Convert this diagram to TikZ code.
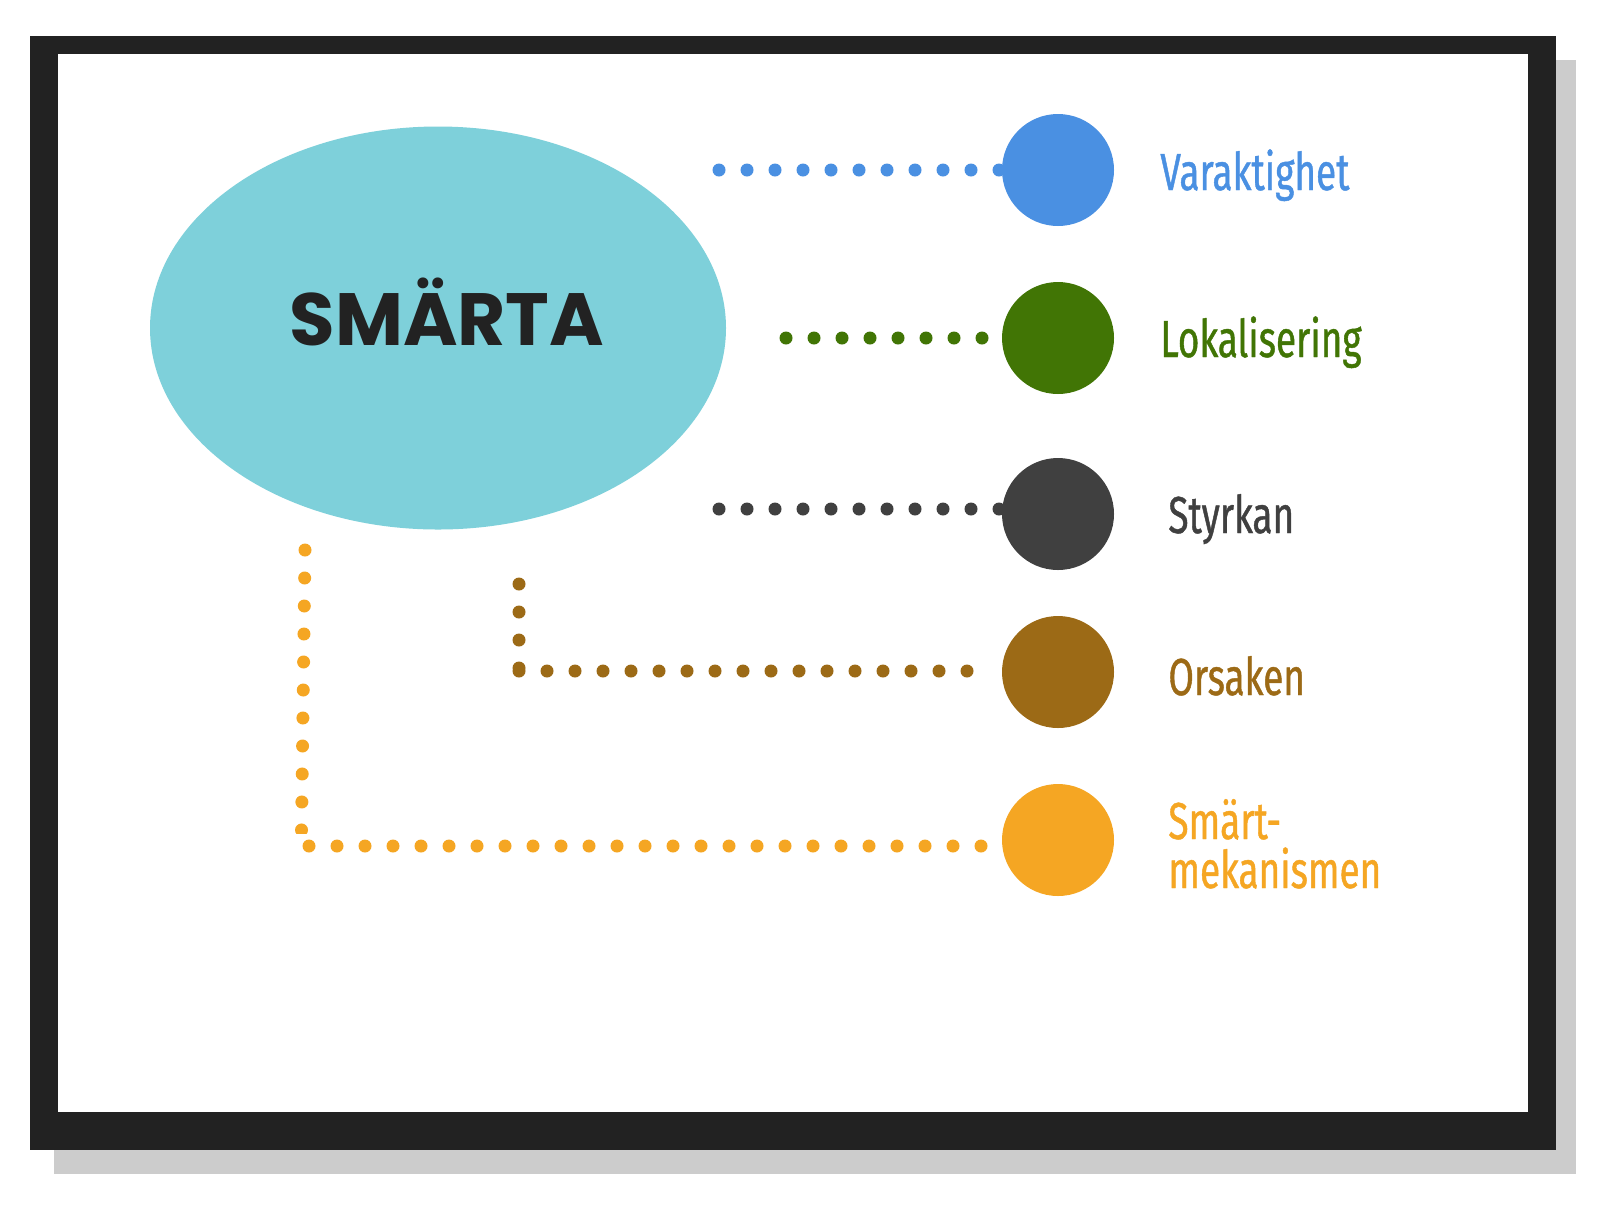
\documentclass[tikz,border=0pt]{standalone}
\usepackage{fontspec}
\usetikzlibrary{shapes.geometric}
\newfontfamily\labfont{Fira Sans}[FakeStretch=0.71,FakeBold=0.8]
\newfontfamily\titlefont{Poppins}
\definecolor{framedark}{HTML}{222222}
\definecolor{shadowgray}{HTML}{CCCCCC}
\definecolor{ellcol}{HTML}{7ED0DA}
\definecolor{cblue}{HTML}{4A90E2}
\definecolor{cgreen}{HTML}{417505}
\definecolor{cdark}{HTML}{404040}
\definecolor{cbrown}{HTML}{9C6A16}
\definecolor{corange}{HTML}{F5A623}
\pgfdeclarelayer{framelayer}
\pgfdeclarelayer{linelayer}
\pgfsetlayers{framelayer,linelayer,main}
\begin{document}
\begin{tikzpicture}[x=0.5pt,y=-0.5pt,
  dots/.style={line width=6.5pt, line cap=round, dash pattern=on 0pt off 14pt},
  bigdot/.style={circle, minimum size=56pt, inner sep=0pt, draw=none},
  lab/.style={anchor=base west, inner sep=0pt, align=left, font=\labfont\fontsize{26}{24.5}\selectfont}]
\useasboundingbox (0,0) rectangle (1600,1222);
\begin{pgfonlayer}{framelayer}
\fill[white] (0,0) rectangle (1600,1222);
\fill[shadowgray] (54,60) rectangle (1576,1174);
\fill[framedark] (30,36) rectangle (1556,1150);
\fill[white] (58,54) rectangle (1528,1112);
\end{pgfonlayer}
% central ellipse
\node[ellipse, fill=ellcol, minimum width=288pt, minimum height=201.5pt, inner sep=0pt] (smarta) at (438,328) {};
\node[anchor=base, inner sep=0pt, text=framedark, font=\titlefont\bfseries\fontsize{37}{40}\selectfont] (smartatxt) at (447,345) {SMÄRTA};
% circles
\node[bigdot, fill=cblue] (c1) at (1058,170) {};
\node[bigdot, fill=cgreen] (c2) at (1058,338) {};
\node[bigdot, fill=cdark] (c3) at (1058,514) {};
\node[bigdot, fill=cbrown] (c4) at (1058,672) {};
\node[bigdot, fill=corange] (c5) at (1058,840) {};
% labels
\node[lab, text=cblue] (l1) at (1160,190) {Varaktighet};
\node[lab, text=cgreen] (l2) at (1160,357) {Lokalisering};
\node[lab, text=cdark] (l3) at (1168,533) {Styrkan};
\node[lab, text=cbrown] (l4) at (1168,695) {Orsaken};
\node[lab, text=corange] (l5) at (1168,888) {Smärt-\\mekanismen};
% connector start points
\coordinate (s1) at (719,170);
\coordinate (s2) at (786,338);
\coordinate (s3) at (719,509);
\coordinate (s4) at (519,584);
\coordinate (s4c) at (519,671);
\coordinate (s4e) at (970,671);
\coordinate (s5) at (305,550);
\coordinate (s5c) at (301.5,830);
\coordinate (s5h) at (309,846);
\begin{pgfonlayer}{linelayer}
\draw[dots, cblue] (s1) -- (s1 -| c1.west);
\draw[dots, cgreen] (s2) -- (c2.west);
\draw[dots, cdark] (s3) -- (s3 -| c3.west);
\draw[dots, cbrown] (s4) -- (s4c) (s4c) -- (s4e);
\begin{scope}
\clip (250,500) rectangle (360,833);
\draw[dots, corange] (s5) -- (s5c);
\end{scope}
\draw[dots, corange] (s5h) -- (s5h -| c5.west);
\end{pgfonlayer}
\end{tikzpicture}
\end{document}
